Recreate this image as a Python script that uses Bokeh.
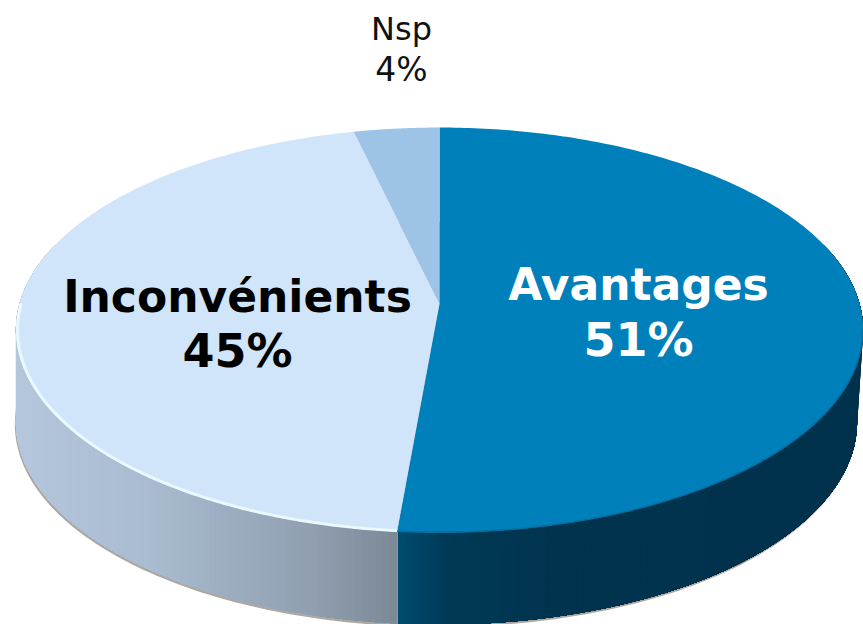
import numpy as np
from bokeh.plotting import figure
from bokeh.models import Range1d
from bokeh.core.properties import value
from bokeh.embed import file_html
from bokeh.resources import INLINE

categories = ["Avantages", "Inconvénients", "Nsp"]
percent_labels = [51, 45, 4]
drawn_shares = [51.4, 44.9, 3.7]
top_colors = ["#0080bb", "#d0e5f9", "#9dc3e6"]

APEX_X, APEX_Y = 439.0, 303.0
BX, BY, K = 420.0, 199.0, 0.131
DEPTH = 92.0


def rim(turn):
    a = 2 * np.pi * np.asarray(turn, dtype=float)
    u, v = np.sin(a), np.cos(a)
    d = 1 + K * v
    return APEX_X + BX * u / d, APEX_Y - BY * v / d


def lower(x, y):
    s = np.clip((np.asarray(x) - 398.0) / 464.0, 0, None)
    return x - 6.0 * s ** 2, y + DEPTH


def mix(stops, x):
    xs = [s[0] for s in stops]
    rgb = [np.interp(x, xs, [s[1][i] for s in stops]) for i in range(3)]
    return "#%02x%02x%02x" % tuple(int(round(c)) for c in rgb)


LEFT_STOPS = [(15, (180, 199, 220)), (150, (168, 187, 208)), (300, (146, 160, 177)), (398, (122, 136, 150))]
RIGHT_STOPS = [(398, (0, 78, 112)), (450, (0, 58, 86)), (560, (0, 51, 78)), (862, (0, 50, 77))]

p = figure(width=863, height=624, output_backend="svg", toolbar_location=None,
           x_range=Range1d(0, 863), y_range=Range1d(624, 0),
           min_border=0, outline_line_color=None, background_fill_color="white",
           border_fill_color="white")
p.xaxis.visible = False
p.yaxis.visible = False
p.grid.visible = False
p.styles = {"position": "absolute", "left": "0px", "top": "0px"}

fractions = np.array(drawn_shares) / sum(drawn_shares)
edges = np.concatenate([[0], np.cumsum(fractions)])

# soft shadow under the disc
t = np.linspace(0, 1, 361)
rx, ry = rim(t)
lx, ly = lower(rx, ry)
p.patch(lx - 1, ly + 2.5, fill_color="#aca7a1", line_color=None)

# side wall: base shape, then overlapping strips so no seams show
for lo, hi, stops in [(0.2, edges[1], RIGHT_STOPS), (edges[1], 0.8, LEFT_STOPS)]:
    tt = np.linspace(lo, hi, 200)
    xa, ya = rim(tt)
    xb, yb = lower(xa, ya)
    p.patch(np.r_[xa, xb[::-1]], np.r_[ya, yb[::-1]], fill_color=mix(stops, xa.mean()), line_color=None)

sx, sy, sc = [], [], []
# painted from the outer ends towards the front, each strip overlapping the next
for lo, hi, stops in [(0.2, edges[1], RIGHT_STOPS), (0.8, edges[1], LEFT_STOPS)]:
    steps = np.linspace(lo, hi, 121)
    for a, b in zip(steps[:-1], steps[1:]):
        tt = np.linspace(a, hi, 40)
        xa, ya = rim(tt)
        xb, yb = lower(xa, ya)
        sx.append(np.r_[xa, xb[::-1]])
        sy.append(np.r_[ya, yb[::-1]])
        sc.append(mix(stops, float(rim(a)[0])))
p.patches(sx, sy, fill_color=sc, line_color=None)

# top face
for i in range(len(categories)):
    tt = np.linspace(edges[i], edges[i + 1], 240)
    x, y = rim(tt)
    p.patch(np.r_[APEX_X, x], np.r_[APEX_Y, y], fill_color=top_colors[i], line_color=None)

# rim highlights
tt = np.linspace(edges[1], 0.75, 200)
x, y = rim(tt)
p.line(APEX_X + (x - APEX_X) * 0.996, APEX_Y + (y - APEX_Y) * 0.996, line_color="#e9f9ff", line_width=3)
tt = np.linspace(0.27, edges[1], 200)
x, y = rim(tt)
p.line(APEX_X + (x - APEX_X) * 0.999, APEX_Y + (y - APEX_Y) * 0.999, line_color="#0a6c9c", line_width=1.5)

font = value("DejaVu Sans")
small, big = "33px", "46px"
p.text([401], [40], text=[categories[2]], text_font=font, text_font_size="32px",
       text_color="#111111", text_align="center", text_baseline="middle", y_offset=-12)
p.text([401], [82], text=[f"{percent_labels[2]}%"], text_font=font, text_font_size=small,
       text_color="#111111", text_align="center", text_baseline="middle", y_offset=-13)
p.text([237], [314], text=[categories[1]], text_font=font, text_font_size="44px", text_font_style="bold",
       text_color="#000000", text_align="center", text_baseline="middle", y_offset=-18)
p.text([237], [368], text=[f"{percent_labels[1]}%"], text_font=font, text_font_size=big, text_font_style="bold",
       text_color="#000000", text_align="center", text_baseline="middle", y_offset=-18)
p.text([638], [301], text=[categories[0]], text_font=font, text_font_size="44px", text_font_style="bold",
       text_color="#ffffff", text_align="center", text_baseline="middle", y_offset=-17)
p.text([638], [356], text=[f"{percent_labels[0]}%"], text_font=font, text_font_size=big, text_font_style="bold",
       text_color="#ffffff", text_align="center", text_baseline="middle", y_offset=-17)

open("out.html", "w").write(file_html(p, INLINE))
